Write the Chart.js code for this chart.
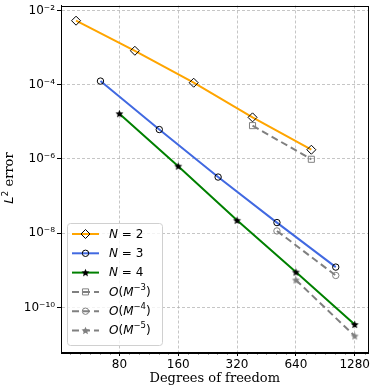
<!DOCTYPE html>
<html>
<head>
<meta charset="utf-8">
<script src="https://cdn.jsdelivr.net/npm/chart.js@4.4.0/dist/chart.umd.min.js"></script>
<style>
  html, body { margin: 0; padding: 0; background: #fff; }
  #wrap { width: 374px; height: 388px; }
</style>
</head>
<body>
<div id="wrap"><canvas id="errChart" width="374" height="388"></canvas></div>
<script>
// values
const dofN2 = [48, 96, 192, 384, 768];
const errN2 = [5.3e-3, 8.2e-4, 1.13e-4, 1.32e-5, 1.77e-6];
const dofN3 = [64, 128, 256, 512, 1024];
const errN3 = [1.25e-4, 6.2e-6, 3.25e-7, 1.93e-8, 1.22e-9];
const dofN4 = [80, 160, 320, 640, 1280];
const errN4 = [1.66e-5, 6.4e-7, 2.22e-8, 8.95e-10, 3.47e-11];
const dofRef3 = [384, 768];
const errRef3 = [7.9e-6, 9.8e-7];
const dofRef4 = [512, 1024];
const errRef4 = [1.15e-8, 7.26e-10];
const dofRef5 = [640, 1280];
const errRef5 = [5.5e-10, 1.7e-11];
const xTickVals = [80, 160, 320, 640, 1280];
const yTickVals = [1e-10, 1e-8, 1e-6, 1e-4, 1e-2];

const pts = (xs, ys) => xs.map((x, i) => ({ x: x, y: ys[i] }));

const SUP = { "-": "\u207B", "0": "\u2070", "1": "\u00B9", "2": "\u00B2", "3": "\u00B3", "4": "\u2074",
              "5": "\u2075", "6": "\u2076", "7": "\u2077", "8": "\u2078", "9": "\u2079" };
function powLabel(v) {
    const e = String(Math.round(Math.log10(v)));
    return "10" + e.split("").map(c => SUP[c]).join("");
}

function starImg(color, r) {
    const c = document.createElement("canvas");
    const s = Math.ceil(r * 2 + 2);
    c.width = s; c.height = s;
    const g = c.getContext("2d");
    g.translate(s / 2, s / 2 + 0.4);
    g.beginPath();
    for (let i = 0; i < 10; i++) {
        const rr = i % 2 ? r * 0.45 : r;
        const a = -Math.PI / 2 + i * Math.PI / 5;
        g.lineTo(rr * Math.cos(a), rr * Math.sin(a));
    }
    g.closePath();
    g.fillStyle = color;
    g.fill();
    return c;
}

const GRAY = "#808080";
const starBlack = starImg("#000", 4.2);
const starGray = starImg(GRAY, 4.2);

const tickFont = { family: "DejaVu Sans", size: 12 };

function mainSet(label, data, color, style, radius) {
    return {
        label: label, data: data,
        borderColor: color, borderWidth: 2, tension: 0,
        pointStyle: style, pointRadius: radius,
        pointBorderColor: "#000", pointBorderWidth: 1,
        pointBackgroundColor: style === starBlack ? "#000" : "rgba(0,0,0,0)"
    };
}
function refSet(label, data, style, radius) {
    return {
        label: label, data: data,
        borderColor: GRAY, borderWidth: 2, borderDash: [7, 4], tension: 0,
        pointStyle: style, pointRadius: radius,
        pointBorderColor: GRAY, pointBorderWidth: 1,
        pointBackgroundColor: "rgba(0,0,0,0)"
    };
}

// legend / axis decorations drawn on the canvas
function drawMarker(ctx, ds, x, y) {
    const st = ds.pointStyle, r = ds.pointRadius;
    if (st instanceof HTMLCanvasElement) {
        ctx.drawImage(st, x - st.width / 2, y - st.height / 2);
        return;
    }
    ctx.save();
    ctx.setLineDash([]);
    ctx.lineWidth = ds.pointBorderWidth;
    ctx.strokeStyle = ds.pointBorderColor;
    ctx.beginPath();
    if (st === "circle") {
        ctx.arc(x, y, r, 0, Math.PI * 2);
    } else if (st === "rectRot") {
        ctx.moveTo(x, y - r); ctx.lineTo(x + r, y); ctx.lineTo(x, y + r); ctx.lineTo(x - r, y); ctx.closePath();
    } else if (st === "rect") {
        const h = r * Math.SQRT1_2;
        ctx.rect(x - h, y - h, 2 * h, 2 * h);
    }
    ctx.stroke();
    ctx.restore();
}

function drawParts(ctx, parts, x, y) {
    parts.forEach(p => {
        ctx.font = p.f;
        ctx.fillText(p.t, x, y + (p.dy || 0));
        x += ctx.measureText(p.t).width;
    });
    return x;
}

function labelParts(label) {
    const it = "italic 12px 'DejaVu Sans'", rg = "12px 'DejaVu Sans'", sm = "8.5px 'DejaVu Sans'";
    if (label.startsWith("N")) {
        return [{ t: "N", f: it }, { t: " = " + label.split("=")[1].trim(), f: rg }];
    }
    const e = label.match(/\^(-?\d+)/)[1].replace("-", "\u2212");
    return [{ t: "O", f: it }, { t: "(", f: rg }, { t: "M", f: it }, { t: e, f: sm, dy: -5 }, { t: ")", f: rg }];
}

const decor = {
    id: "decor",
    afterDraw(chart) {
        const ctx = chart.ctx, a = chart.chartArea, xs = chart.scales.x;
        ctx.save();
        // minor ticks on x
        ctx.strokeStyle = "#000";
        ctx.lineWidth = 0.7;
        xTickVals.concat([40]).forEach(m => {
            for (let k = 1; k < 6; k++) {
                const v = m * Math.pow(2, k / 6);
                const px = xs.getPixelForValue(v);
                if (px <= a.left || px >= a.right) continue;
                ctx.beginPath();
                ctx.moveTo(Math.round(px) + 0.5, a.bottom);
                ctx.lineTo(Math.round(px) + 0.5, a.bottom + 2.5);
                ctx.stroke();
            }
        });
        // frame
        ctx.lineWidth = 1;
        ctx.strokeRect(Math.round(a.left) + 0.5, Math.round(a.top) + 0.5,
                       Math.round(a.right - a.left) - 1, Math.round(a.bottom - a.top));

        // y title: L^2 error
        ctx.fillStyle = "#000";
        ctx.textBaseline = "alphabetic";
        ctx.translate(13, 178);
        ctx.rotate(-Math.PI / 2);
        const tParts = [
            { t: "L", f: "italic 13px 'DejaVu Sans'" },
            { t: "2", f: "9px 'DejaVu Sans'", dy: -5.5 },
            { t: " error", f: "13px 'DejaVu Serif'" }
        ];
        let w = 0;
        tParts.forEach(p => { ctx.font = p.f; w += ctx.measureText(p.t).width; });
        drawParts(ctx, tParts, -w / 2, 0);
        ctx.restore();

        // legend
        ctx.save();
        const bx = 67.5, by = 223.5, bw = 95, bh = 122, rr = 3;
        ctx.beginPath();
        ctx.moveTo(bx + rr, by);
        ctx.arcTo(bx + bw, by, bx + bw, by + bh, rr);
        ctx.arcTo(bx + bw, by + bh, bx, by + bh, rr);
        ctx.arcTo(bx, by + bh, bx, by, rr);
        ctx.arcTo(bx, by, bx + bw, by, rr);
        ctx.closePath();
        ctx.fillStyle = "rgba(255,255,255,0.8)";
        ctx.fill();
        ctx.strokeStyle = "#d0d0d0";
        ctx.lineWidth = 1;
        ctx.stroke();

        chart.data.datasets.forEach((ds, i) => {
            const y = 234 + i * 19.3;
            ctx.save();
            ctx.strokeStyle = ds.borderColor;
            ctx.lineWidth = ds.borderWidth;
            ctx.setLineDash(ds.borderDash || []);
            ctx.beginPath();
            ctx.moveTo(72, y);
            ctx.lineTo(99, y);
            ctx.stroke();
            ctx.restore();
            drawMarker(ctx, ds, 85.5, y);
            ctx.fillStyle = "#000";
            ctx.textBaseline = "middle";
            drawParts(ctx, labelParts(ds.label), 109, y + 0.5);
        });
        ctx.restore();
    }
};

new Chart(document.getElementById("errChart"), {
    type: "line",
    data: {
        datasets: [
            mainSet("N = 2", pts(dofN2, errN2), "#FFA500", "rectRot", 4.5),
            mainSet("N = 3", pts(dofN3, errN3), "#4169E1", "circle", 3.2),
            mainSet("N = 4", pts(dofN4, errN4), "#008000", starBlack, 4),
            refSet("O(M^-3)", pts(dofRef3, errRef3), "rect", 4.3),
            refSet("O(M^-4)", pts(dofRef4, errRef4), "circle", 3.2),
            refSet("O(M^-5)", pts(dofRef5, errRef5), starGray, 4)
        ]
    },
    options: {
        responsive: false,
        devicePixelRatio: 1,
        animation: false,
        events: [],
        layout: { padding: { left: 0, right: 2, top: 2, bottom: 0 } },
        plugins: { legend: { display: false }, tooltip: { enabled: false } },
        scales: {
            x: {
                type: "logarithmic",
                min: 40.2,
                max: 1506,
                afterBuildTicks: s => { s.ticks = xTickVals.map(v => ({ value: v })); },
                afterFit: s => { s.height = 36; s.paddingLeft = 0; s.paddingRight = 0; },
                ticks: { callback: v => String(v), font: tickFont, color: "#000", padding: 2,
                         maxRotation: 0, autoSkip: false },
                grid: { color: "rgba(176,176,176,0.9)", lineWidth: 0.8, tickColor: "#000",
                        tickLength: 4, tickWidth: 1 },
                border: { color: "#000", width: 1, dash: [3, 2] },
                title: { display: true, text: "Degrees of freedom", color: "#000",
                         font: { family: "DejaVu Serif", size: 13 }, padding: { top: 0, bottom: 2 } }
            },
            y: {
                type: "logarithmic",
                min: 6.3e-12,
                max: 1.36e-2,
                afterBuildTicks: s => { s.ticks = yTickVals.map(v => ({ value: v })); },
                afterFit: s => { s.width = 61; s.paddingTop = 0; s.paddingBottom = 0; },
                ticks: { callback: v => powLabel(v), font: tickFont, color: "#000", padding: 2,
                         autoSkip: false },
                grid: { color: "rgba(176,176,176,0.9)", lineWidth: 0.8, tickColor: "#000",
                        tickLength: 4, tickWidth: 1 },
                border: { color: "#000", width: 1, dash: [3, 2] }
            }
        }
    },
    plugins: [decor]
});
</script>
</body>
</html>
